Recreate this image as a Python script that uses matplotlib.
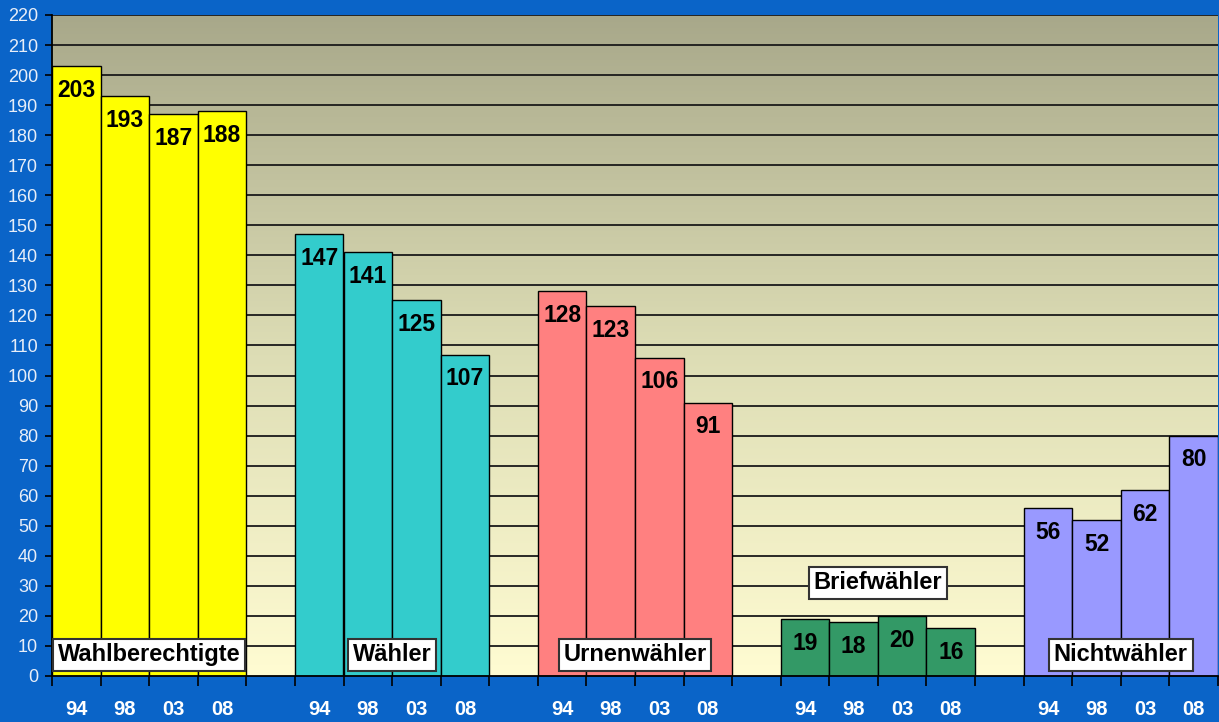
import numpy as np
import matplotlib.pyplot as plt
from matplotlib.colors import LinearSegmentedColormap

# data
years = ["94", "98", "03", "08"]
groups = ["Wahlberechtigte", "Wähler", "Urnenwähler", "Briefwähler", "Nichtwähler"]
wahlberechtigte = [203, 193, 187, 188]
waehler = [147, 141, 125, 107]
urnenwaehler = [128, 123, 106, 91]
briefwaehler = [19, 18, 20, 16]
nichtwaehler = [56, 52, 62, 80]
series = [wahlberechtigte, waehler, urnenwaehler, briefwaehler, nichtwaehler]
colors = ["#FFFF00", "#33CCCC", "#FF8080", "#339966", "#9999FF"]
label_y = [7, 7, 7, 31, 7]

plt.rcParams['font.family'] = ['Liberation Sans', 'DejaVu Sans']

fig = plt.figure(figsize=(12.19, 7.22), dpi=100, facecolor="#0A64C8")
ax = fig.add_axes([52/1219, 46/722, 1166/1219, 661/722])

# gradient background
grad = LinearSegmentedColormap.from_list("bg", ["#FFFCD2", "#DCDCB4", "#A8A88A"])
ax.imshow(np.linspace(0, 1, 256).reshape(-1, 1), cmap=grad, origin="lower",
          extent=(-0.5, 23.5, 0, 220), aspect="auto", zorder=0)

for y in range(10, 221, 10):
    ax.axhline(y, color="#1a1a1a", lw=1.3, zorder=1)

centers = []
labels = []
for g, vals in enumerate(series):
    xs = [g * 5 + i for i in range(4)]
    bars = ax.bar(xs, vals, width=1.0, color=colors[g], edgecolor="black", lw=1.0, zorder=2)
    for b, v in zip(bars, vals):
        ax.annotate(str(v), (b.get_x() + 0.5, v), xytext=(0, -17.5), textcoords="offset points",
                    ha="center", va="center", fontsize=16.5, fontweight="bold", color="black", zorder=3)
    centers += xs
    labels += years
    ax.text(g * 5 + 1.5, label_y[g], groups[g], ha="center", va="center", fontsize=17,
            fontweight="bold", color="black", zorder=4,
            bbox=dict(boxstyle="square,pad=0.2", fc="white", ec="#333333", lw=1.5))

ax.set_xlim(-0.5, 23.5)
ax.set_ylim(0, 220)
ax.set_yticks(range(0, 221, 10))
ax.tick_params(axis="y", colors="black", labelcolor="#E8EEF8", labelsize=13, length=5, width=1.2, pad=5)
ax.set_xticks(centers)
ax.set_xticklabels(labels, fontsize=14.5, fontweight="bold", color="white")
ax.set_xticks(np.arange(-0.5, 24, 1), minor=True)
ax.tick_params(axis="x", which="major", length=0, pad=17)
ax.tick_params(axis="x", which="minor", length=7, width=1.2, color="black")

for s in ["top", "right"]:
    ax.spines[s].set_visible(False)
ax.spines["left"].set_linewidth(1.3)
ax.spines["bottom"].set_linewidth(1.3)

fig.savefig("out.png", dpi=100, facecolor=fig.get_facecolor())
